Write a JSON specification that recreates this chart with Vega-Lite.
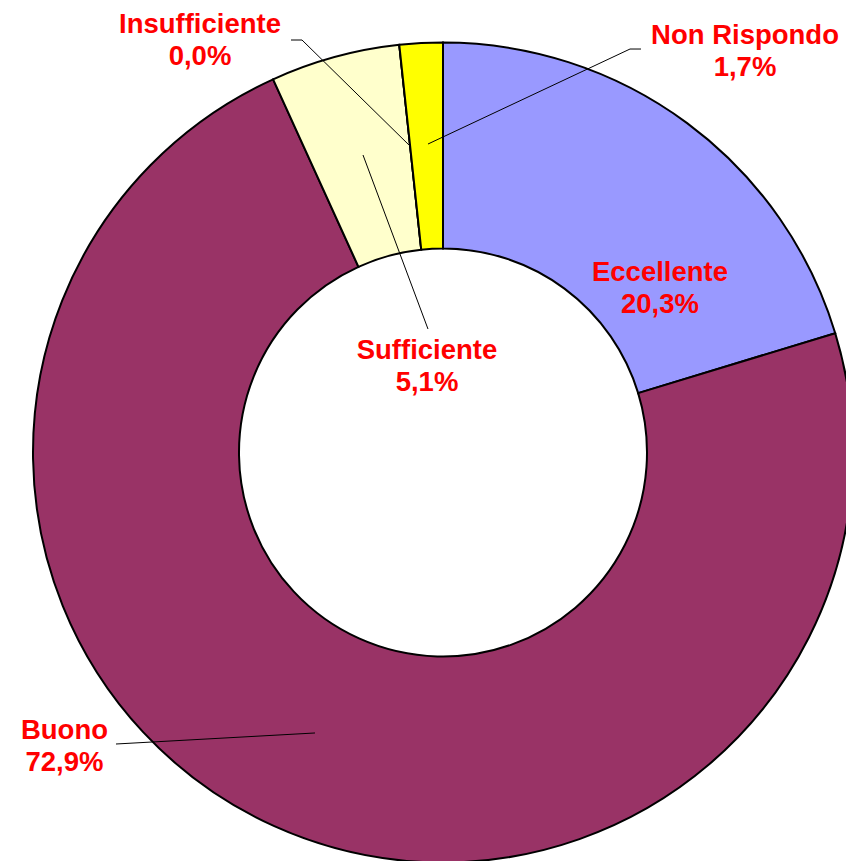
{
  "$schema": "https://vega.github.io/schema/vega-lite/v6.json",
  "width": 846,
  "height": 861,
  "autosize": {"type": "none"},
  "padding": 0,
  "background": "white",
  "view": {"stroke": null},
  "datasets": {
    "slices": [
      {"cat": "Eccellente", "pct": 20.3, "rank": 1},
      {"cat": "Buono", "pct": 72.9, "rank": 2},
      {"cat": "Sufficiente", "pct": 5.1, "rank": 3},
      {"cat": "Insufficiente", "pct": 0.0, "rank": 4},
      {"cat": "Non Rispondo", "pct": 1.7, "rank": 5}
    ],
    "labels": [
      {"cat": "Eccellente", "x": 0.5293, "y": 0.4183},
      {"cat": "Buono", "x": -0.9232, "y": -0.6988},
      {"cat": "Sufficiente", "x": -0.0390, "y": 0.2280},
      {"cat": "Insufficiente", "x": -0.5927, "y": 1.0232},
      {"cat": "Non Rispondo", "x": 0.7366, "y": 0.9963}
    ],
    "leaders": [
      {"cat": "Insufficiente", "seq": 1, "x": -0.3707, "y": 1.0061},
      {"cat": "Insufficiente", "seq": 2, "x": -0.3439, "y": 1.0061},
      {"cat": "Insufficiente", "seq": 3, "x": -0.0805, "y": 0.7476},
      {"cat": "Non Rispondo", "seq": 1, "x": 0.4829, "y": 0.9841},
      {"cat": "Non Rispondo", "seq": 2, "x": 0.4561, "y": 0.9841},
      {"cat": "Non Rispondo", "seq": 3, "x": -0.0366, "y": 0.7524},
      {"cat": "Buono", "seq": 1, "x": -0.7976, "y": -0.7110},
      {"cat": "Buono", "seq": 2, "x": -0.3122, "y": -0.6841},
      {"cat": "Sufficiente", "seq": 1, "x": -0.1951, "y": 0.7256},
      {"cat": "Sufficiente", "seq": 2, "x": -0.0366, "y": 0.3012}
    ]
  },
  "layer": [
    {
      "data": {"name": "slices"},
      "mark": {"type": "arc", "outerRadius": 410, "innerRadius": 204, "stroke": "black", "strokeWidth": 2},
      "encoding": {
        "theta": {"field": "pct", "type": "quantitative", "stack": true},
        "order": {"field": "rank", "type": "quantitative"},
        "color": {
          "field": "cat", "type": "nominal", "legend": null,
          "scale": {
            "domain": ["Eccellente", "Buono", "Sufficiente", "Insufficiente", "Non Rispondo"],
            "range": ["#9999FF", "#993366", "#FFFFCC", "#CCFFFF", "#FFFF00"]
          }
        },
        "x": {"datum": 0, "type": "quantitative", "axis": null, "scale": {"domain": [-1.08049, 0.98293], "nice": false, "zero": false}},
        "y": {"datum": 0, "type": "quantitative", "axis": null, "scale": {"domain": [-0.99634, 1.10366], "nice": false, "zero": false}}
      }
    },
    {
      "data": {"name": "leaders"},
      "mark": {"type": "line", "stroke": "black", "strokeWidth": 1},
      "encoding": {
        "x": {"field": "x", "type": "quantitative", "axis": null, "scale": {"domain": [-1.08049, 0.98293], "nice": false, "zero": false}},
        "y": {"field": "y", "type": "quantitative", "axis": null, "scale": {"domain": [-0.99634, 1.10366], "nice": false, "zero": false}},
        "detail": {"field": "cat"},
        "order": {"field": "seq", "type": "quantitative"}
      }
    },
    {
      "data": {"name": "labels"},
      "transform": [
        {"lookup": "cat", "from": {"data": {"name": "slices"}, "key": "cat", "fields": ["pct"]}},
        {"calculate": "datum.cat + '\\n' + replace(format(datum.pct, '.1f'), '.', ',') + '%'", "as": "label"}
      ],
      "mark": {"type": "text", "font": "Liberation Sans", "fontWeight": "bold", "fontSize": 27.5, "color": "#FF0000", "align": "center", "baseline": "alphabetic", "lineBreak": "\n", "lineHeight": 32},
      "encoding": {
        "x": {"field": "x", "type": "quantitative", "axis": null, "scale": {"domain": [-1.08049, 0.98293], "nice": false, "zero": false}},
        "y": {"field": "y", "type": "quantitative", "axis": null, "scale": {"domain": [-0.99634, 1.10366], "nice": false, "zero": false}},
        "text": {"field": "label", "type": "nominal"}
      }
    }
  ]
}
